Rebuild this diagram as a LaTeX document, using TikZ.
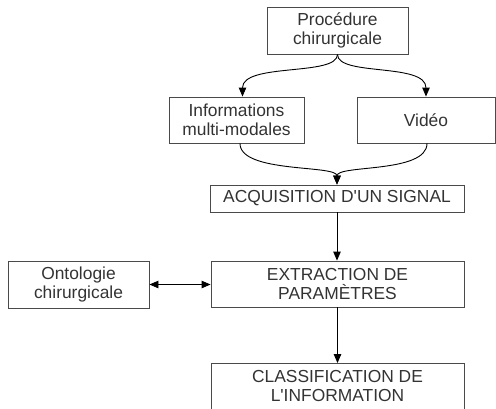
\documentclass[tikz,border=0pt]{standalone}
\usepackage{fontspec}
\setmainfont{Liberation Sans}[Ligatures=TeXOff]
\usetikzlibrary{arrows.meta}
\definecolor{boxline}{HTML}{4A4A4A}
\definecolor{txt}{HTML}{333333}
\tikzset{
  box/.style={draw=boxline, line width=0.9pt, rectangle, inner sep=0pt, align=center,
    text=txt, font=\fontsize{17.4}{19}\selectfont},
  arr/.style={draw=black, line width=0.9pt, -{Triangle[length=9pt,width=7.5pt]}},
  darr/.style={draw=black, line width=0.9pt, {Triangle[length=9pt,width=7.5pt]}-{Triangle[length=9pt,width=7.5pt]}}
}
\begin{document}
\begin{tikzpicture}[x=1pt,y=-1pt]
\useasboundingbox (0,0) rectangle (496,408);
\begin{scope}
\clip (0,0) rectangle (496,408);
\node[box, minimum width=141pt, minimum height=47pt] (proc) at (337.5,30.5) {Procédure\\chirurgicale};
\node[box, minimum width=135pt, minimum height=46pt] (info) at (236.5,120) {Informations\\multi-modales};
\node[box, minimum width=138pt, minimum height=46pt] (video) at (426,120) {Vidéo};
\node[box, minimum width=254pt, minimum height=27pt] (acq) at (337,198.5) {ACQUISITION D'UN SIGNAL};
\node[box, minimum width=253pt, minimum height=46pt] (extr) at (337.5,284) {EXTRACTION DE\\PARAMÈTRES};
\node[box, minimum width=141pt, minimum height=47pt] (onto) at (78.5,284.5) {Ontologie\\chirurgicale};
\node[box, minimum width=253pt, minimum height=46pt] (clas) at (337.5,386.5) {CLASSIFICATION DE\\L'INFORMATION};

\draw[arr] (proc.south) .. controls +(0,22) and +(0,-34) .. ([xshift=6pt]info.north);
\draw[arr] (proc.south) .. controls +(0,22) and +(0,-34) .. (video.north);
\draw[arr] ([xshift=3.5pt]info.south) .. controls +(0,30) and +(0,-20) .. (acq.north);
\draw[arr] ([xshift=1pt]video.south) .. controls +(0,30) and +(0,-20) .. (acq.north);
\draw[arr] (acq.south) -- (acq.south |- extr.north);
\draw[arr] (extr.south) -- (clas.north);
\draw[darr] (onto.east) -- (extr.west |- onto.east);
\end{scope}
\end{tikzpicture}
\end{document}
